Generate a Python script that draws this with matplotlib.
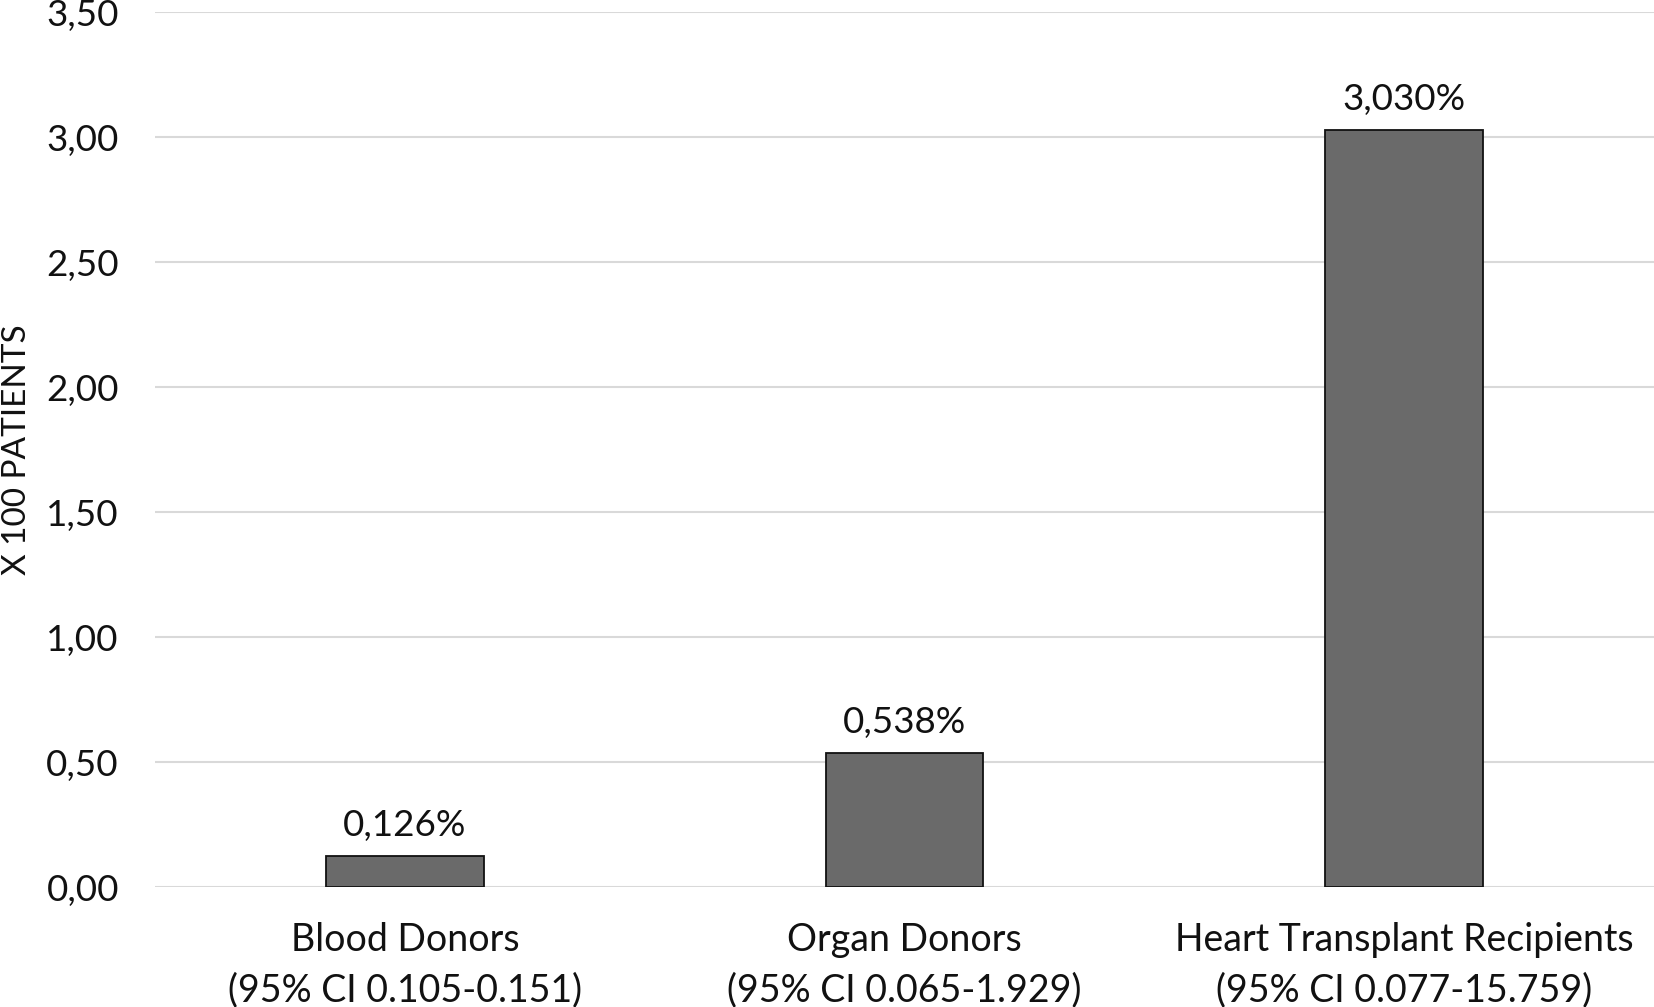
import matplotlib
matplotlib.use("Agg")
import matplotlib.pyplot as plt
from matplotlib.ticker import FuncFormatter

categories = ["Blood Donors\n(95% CI 0.105-0.151)",
              "Organ Donors\n(95% CI 0.065-1.929)",
              "Heart Transplant Recipients\n(95% CI 0.077-15.759)"]
values = [0.126, 0.538, 3.030]
value_labels = ["0,126%", "0,538%", "3,030%"]
yticks = [0.0, 0.5, 1.0, 1.5, 2.0, 2.5, 3.0, 3.5]

plt.rcParams['font.family'] = ['Lato', 'DejaVu Sans']

W, H = 1654, 1007
fig = plt.figure(figsize=(W/100, H/100), dpi=100)
left, right, top, bottom = 155, 1654, 12.5, 887
ax = fig.add_axes([left/W, 1 - bottom/H, (right-left)/W, (bottom-top)/H])

x = list(range(len(categories)))
ax.bar(x, values, width=0.316, color="#6a6a6a", edgecolor="#111111", linewidth=1.3, zorder=3)
for xi, v, lab in zip(x, values, value_labels):
    ax.annotate(lab, (xi, v), xytext=(0, 10), textcoords="offset points",
                ha="center", va="bottom", fontsize=26.5, color="#111111")

ax.set_xlim(-0.5, 2.5)
ax.set_ylim(0, 3.5)
ax.set_yticks(yticks)
ax.yaxis.set_major_formatter(FuncFormatter(lambda v, p: f"{v:.2f}".replace(".", ",")))
ax.set_xticks(x)
ax.set_xticklabels(categories, fontsize=27, color="#111111", linespacing=1.5)
ax.tick_params(axis="y", labelsize=26.5, colors="#111111", length=0, pad=26)
ax.tick_params(axis="x", length=0, pad=25)
ax.grid(axis="y", color="#d9d9d9", linewidth=1.5, zorder=0)
ax.set_axisbelow(True)
for s in ax.spines.values():
    s.set_visible(False)
fig.text(17/W, 1 - 450/H, "X 100 PATIENTS", rotation=90, ha="center", va="center",
         fontsize=24, color="#111111")

fig.savefig("out.png", dpi=100)
